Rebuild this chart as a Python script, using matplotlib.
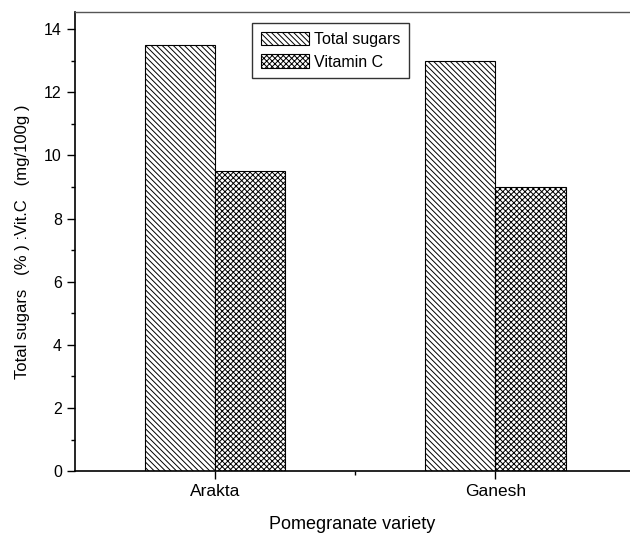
import numpy as np
import matplotlib
matplotlib.use("Agg")
import matplotlib.pyplot as plt
from matplotlib.ticker import MultipleLocator, FixedLocator

plt.rcParams['font.family'] = ['Liberation Sans', 'DejaVu Sans']
plt.rcParams['hatch.linewidth'] = 0.7

varieties = ['Arakta', 'Ganesh']
total_sugars = [13.5, 13.0]
vitamin_c = [9.5, 9.0]

x = np.arange(1, len(varieties) + 1)
w = 0.25

fig = plt.figure(figsize=(6.3, 5.36), dpi=100)
ax = fig.add_axes([0.119, 0.121, 0.881, 0.857])

ax.bar(x - w / 2, total_sugars, w, color='white', edgecolor='black',
       hatch='\\\\\\\\\\\\', linewidth=0.8, label='Total sugars')
ax.bar(x + w / 2, vitamin_c, w, color='white', edgecolor='black',
       hatch='xxxxxx', linewidth=0.8, label='Vitamin C')

ax.set_xlim(0.5, 2.48)
ax.set_ylim(0, 14.55)
ax.set_xticks(x)
ax.set_xticklabels(varieties)
ax.xaxis.set_minor_locator(FixedLocator([1.5]))
ax.yaxis.set_major_locator(MultipleLocator(2))
ax.yaxis.set_minor_locator(MultipleLocator(1))
ax.tick_params(axis='both', which='major', direction='out', length=6, width=1)
ax.tick_params(axis='x', which='major', labelsize=12.5)
ax.tick_params(axis='y', which='major', labelsize=11.5)
ax.tick_params(axis='both', which='minor', direction='out', length=3, width=1)
ax.spines['right'].set_visible(False)
for s in ['left', 'bottom']:
    ax.spines[s].set_linewidth(1.2)
ax.spines['top'].set_linewidth(1.0)
ax.spines['top'].set_color('#555555')

ax.set_xlabel('Pomegranate variety', fontsize=13, labelpad=12)
ax.set_ylabel('Total sugars   (% ) :Vit.C   (mg/100g )', fontsize=12, labelpad=10)

leg = ax.legend(loc='upper left', bbox_to_anchor=(0.319, 0.976), fontsize=11.5,
                frameon=True, fancybox=False, edgecolor='black',
                handlelength=3.0, handleheight=0.95, handletextpad=0.3,
                borderpad=0.55, labelspacing=0.45, borderaxespad=0)
leg.get_frame().set_linewidth(1.0)

fig.savefig('out.png', dpi=100)
